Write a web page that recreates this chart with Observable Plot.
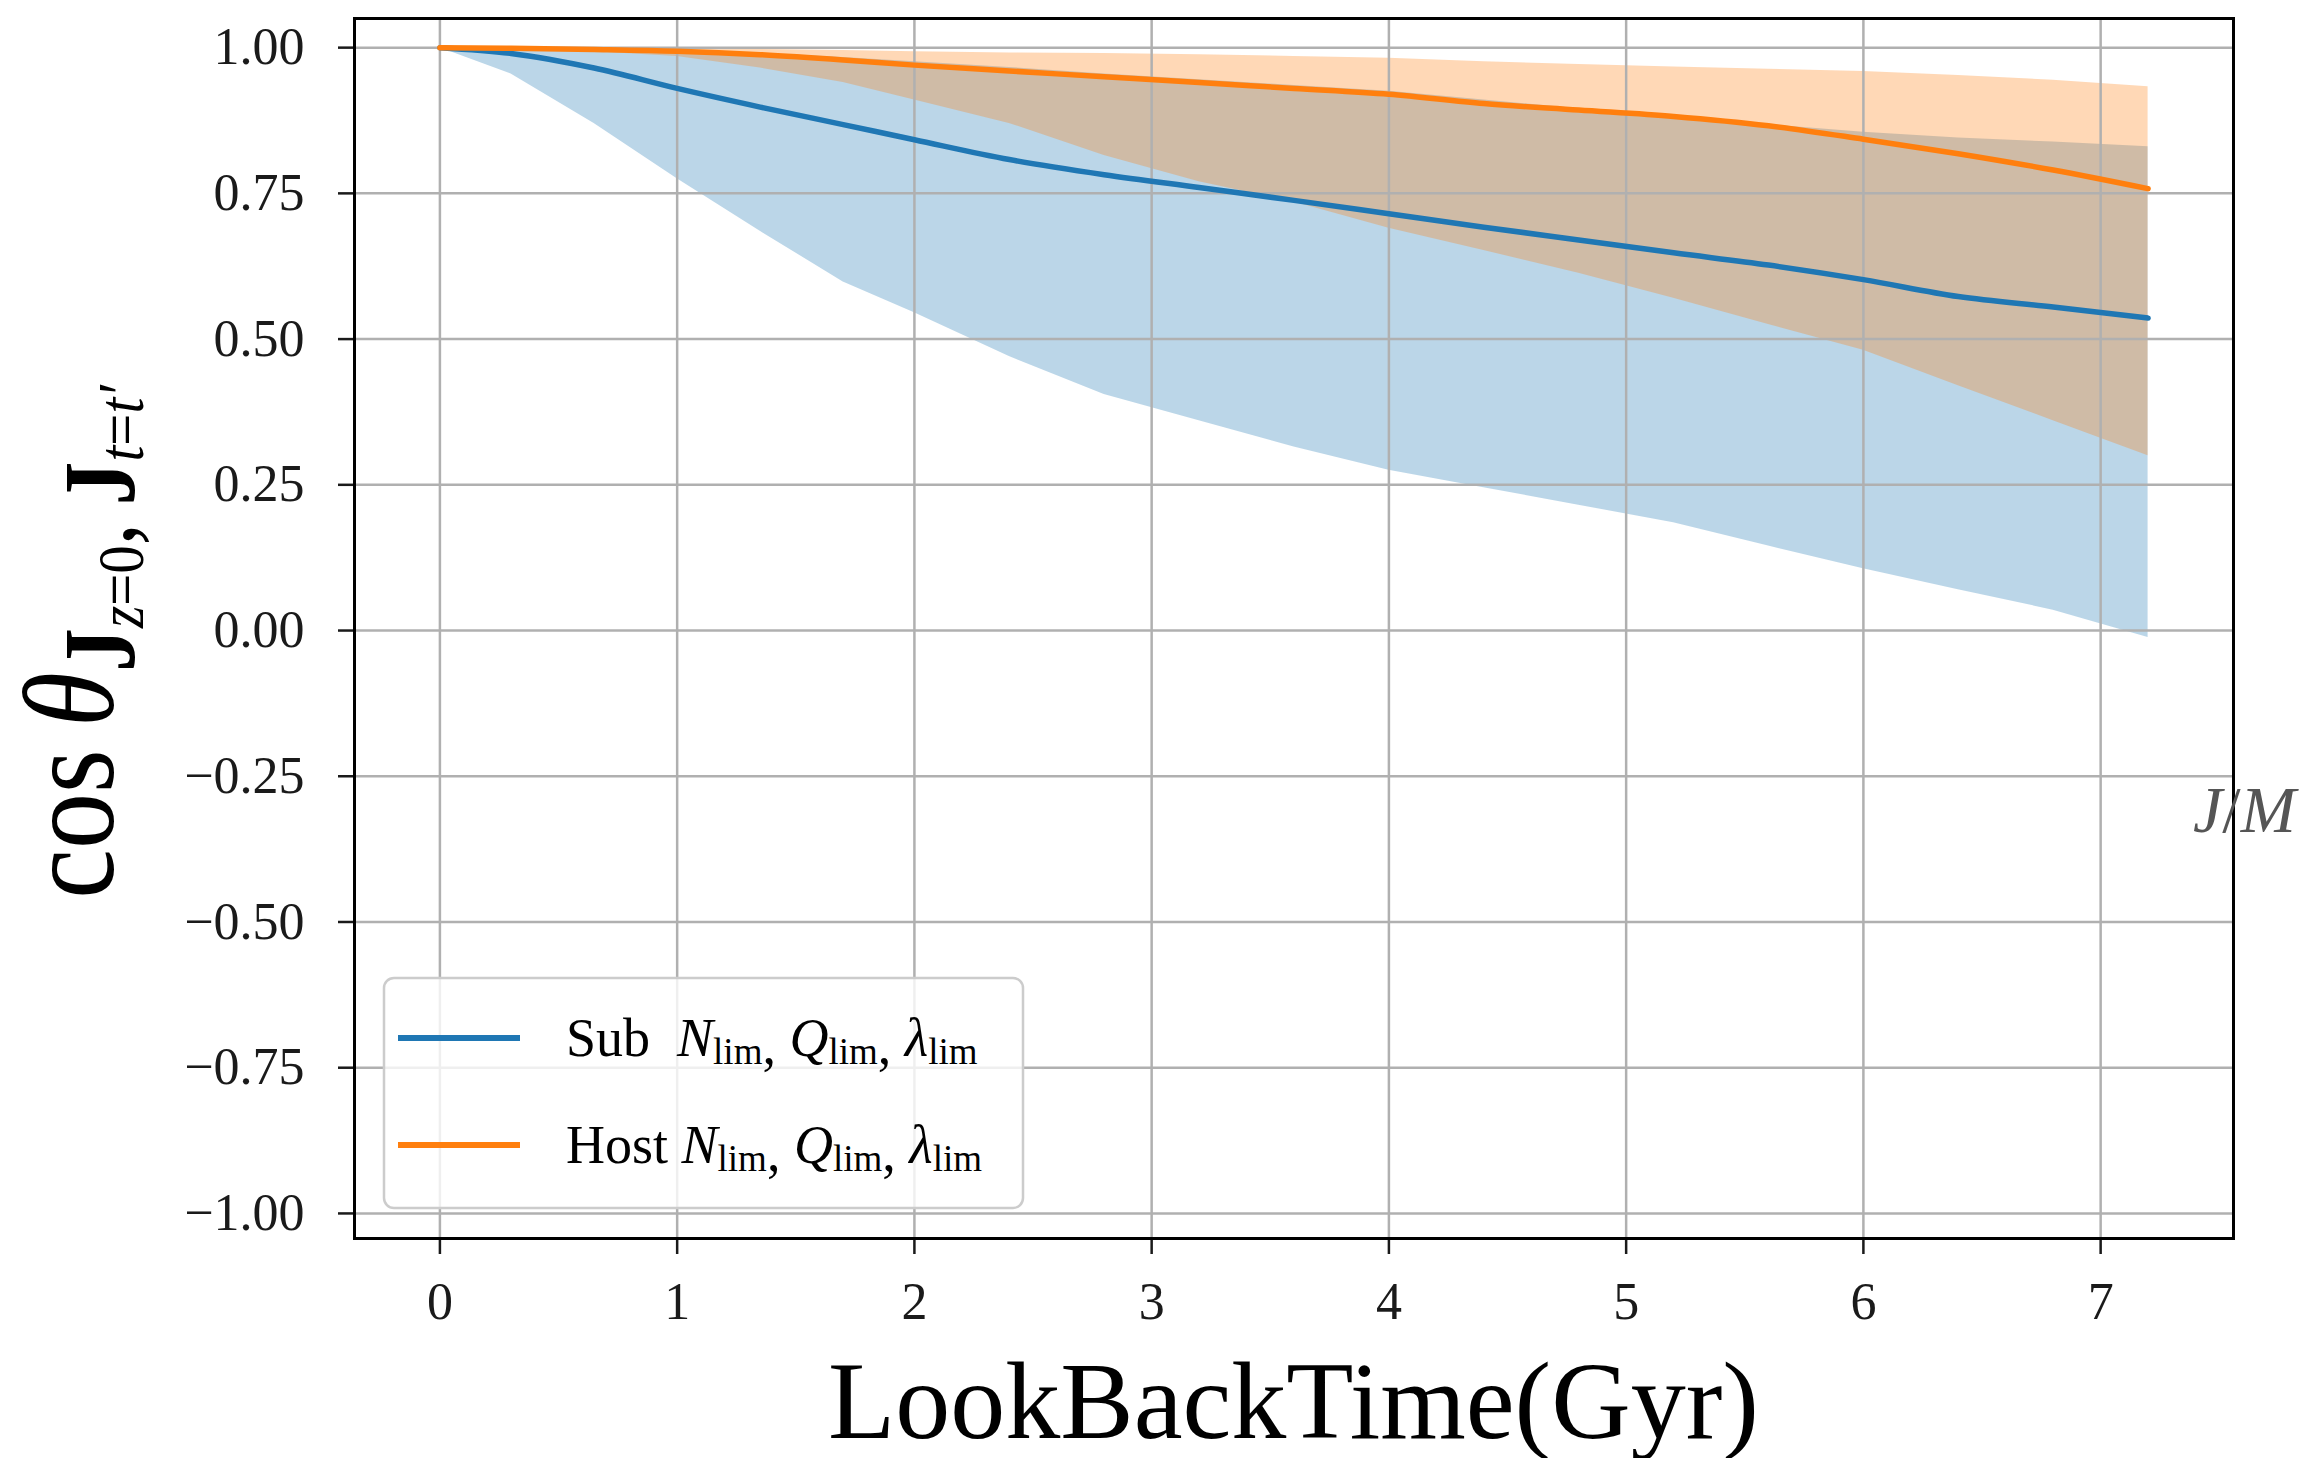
<!DOCTYPE html>
<html>
<head>
<meta charset="utf-8">
<script src="https://cdn.jsdelivr.net/npm/d3@7"></script>
<script src="https://cdn.jsdelivr.net/npm/@observablehq/plot@0.6"></script>
<style>
html, body { margin: 0; padding: 0; background: #ffffff; overflow: hidden; }
#chart svg { display: block; }
</style>
</head>
<body>
<div id="chart"></div>
<script>
// ---- data ----
const lookbackTime = [0, 0.3, 0.65, 1, 1.35, 1.7, 2, 2.4, 2.8, 3.2, 3.6, 4, 4.4, 4.8, 5.2, 5.6, 6, 6.4, 6.8, 7.2];

const subMean = [1.0, 0.99, 0.965, 0.93, 0.898, 0.868, 0.842, 0.808, 0.782, 0.76, 0.738, 0.715, 0.692, 0.67, 0.648, 0.627, 0.602, 0.573, 0.555, 0.536];
const subLow  = [1.0, 0.955, 0.87, 0.775, 0.685, 0.598, 0.545, 0.47, 0.405, 0.36, 0.315, 0.275, 0.245, 0.215, 0.185, 0.145, 0.106, 0.07, 0.035, -0.012];
const subHigh = [1.0, 1.0, 0.998, 0.995, 0.99, 0.983, 0.976, 0.966, 0.955, 0.945, 0.935, 0.925, 0.91, 0.895, 0.882, 0.868, 0.855, 0.845, 0.838, 0.83];

const hostMean = [1.0, 0.999, 0.997, 0.994, 0.988, 0.979, 0.97, 0.96, 0.95, 0.94, 0.93, 0.92, 0.904, 0.893, 0.882, 0.866, 0.843, 0.818, 0.79, 0.758];
const hostLow  = [1.0, 0.998, 0.993, 0.985, 0.965, 0.94, 0.91, 0.87, 0.815, 0.77, 0.735, 0.69, 0.652, 0.613, 0.57, 0.525, 0.481, 0.42, 0.36, 0.30];
const hostHigh = [1.0, 1.0, 1.0, 0.999, 0.997, 0.995, 0.993, 0.991, 0.99, 0.988, 0.985, 0.982, 0.976, 0.971, 0.967, 0.963, 0.959, 0.952, 0.944, 0.933];

const xTicks = [0, 1, 2, 3, 4, 5, 6, 7];
const yTicks = [-1, -0.75, -0.5, -0.25, 0, 0.25, 0.5, 0.75, 1];
const seriesNames = ["Sub", "Host"];
const xLabel = "LookBackTime(Gyr)";
const cornerNote = ["J", "/", "M"];

// ---- styling ----
const BLUE = "#1f77b4";
const ORANGE = "#ff7f0e";
const SERIF = "'Liberation Serif', 'Times New Roman', 'DejaVu Serif', serif";
const GRID = "#b0b0b0";

const rows = lookbackTime.map((t, i) => ({
  t,
  subMean: subMean[i], subLow: subLow[i], subHigh: subHigh[i],
  hostMean: hostMean[i], hostLow: hostLow[i], hostHigh: hostHigh[i]
}));

const W = 2305, H = 1458;
const mL = 354, mR = 72, mT = 18, mB = 220;

const chart = Plot.plot({
  width: W,
  height: H,
  marginLeft: mL,
  marginRight: mR,
  marginTop: mT,
  marginBottom: mB,
  style: { fontFamily: SERIF, fontSize: "52px", color: "#1a1a1a", background: "#ffffff", overflow: "visible" },
  x: { domain: [-0.36, 7.56], ticks: xTicks },
  y: { domain: [-1.043, 1.05], ticks: yTicks },
  marks: [
    Plot.areaY(rows, { x: "t", y1: "subLow", y2: "subHigh", fill: BLUE, fillOpacity: 0.3, curve: "linear" }),
    Plot.areaY(rows, { x: "t", y1: "hostLow", y2: "hostHigh", fill: ORANGE, fillOpacity: 0.3, curve: "linear" }),
    Plot.gridX(xTicks, { stroke: GRID, strokeOpacity: 1, strokeWidth: 2.5 }),
    Plot.gridY(yTicks, { stroke: GRID, strokeOpacity: 1, strokeWidth: 2.5 }),
    Plot.lineY(rows, { x: "t", y: "subMean", stroke: BLUE, strokeWidth: 5.5, curve: "monotone-x" }),
    Plot.lineY(rows, { x: "t", y: "hostMean", stroke: ORANGE, strokeWidth: 5.5, curve: "monotone-x" }),
    Plot.axisX(xTicks, { tickSize: 16, tickPadding: 28, strokeWidth: 2.5, label: null, fontSize: 52, tickFormat: d3.format("d") }),
    Plot.axisY(yTicks, { tickSize: 16, tickPadding: 34, strokeWidth: 2.5, label: null, fontSize: 52, tickFormat: d3.format(".2f") }),
    Plot.frame({ stroke: "#000000", strokeWidth: 3 })
  ]
});

document.getElementById("chart").appendChild(chart);

const svg = d3.select(chart);

// ---- x-axis label ----
svg.append("text")
  .attr("x", mL + (W - mL - mR) / 2)
  .attr("y", 1438)
  .attr("text-anchor", "middle")
  .attr("font-family", SERIF)
  .attr("font-size", 110)
  .attr("fill", "#000")
  .text(xLabel);

// ---- y-axis label (mathtext-like) ----
const yl = svg.append("text")
  .attr("transform", `translate(113, ${mT + (H - mT - mB) / 2 + 14}) scale(1.15, 1) rotate(-90)`)
  .attr("text-anchor", "middle")
  .attr("font-family", SERIF)
  .attr("font-size", 112)
  .attr("fill", "#000");
yl.append("tspan").text("cos\u2009");
yl.append("tspan").attr("font-style", "italic").text("θ");
yl.append("tspan").attr("font-weight", "bold").attr("font-size", 88).attr("dy", 18).text("J");
yl.append("tspan").attr("font-style", "italic").attr("font-size", 57).attr("dy", 8).text("z");
yl.append("tspan").attr("font-size", 57).text("=0");
yl.append("tspan").attr("font-size", 88).attr("dy", -8).text(",\u2009");
yl.append("tspan").attr("font-weight", "bold").attr("font-size", 88).text("J");
yl.append("tspan").attr("font-style", "italic").attr("font-size", 57).attr("dy", 8).text("t");
yl.append("tspan").attr("font-size", 57).text("=");
yl.append("tspan").attr("font-style", "italic").attr("font-size", 57).text("t\u2032");

// ---- corner note ----
const note = svg.append("text")
  .attr("x", 2193)
  .attr("y", 832)
  .attr("text-anchor", "start")
  .attr("font-family", SERIF)
  .attr("font-size", 66)
  .attr("font-style", "italic")
  .attr("fill", "#555555");
note.append("tspan").text(cornerNote[0]);
note.append("tspan").attr("font-style", "normal").text(cornerNote[1]);
note.append("tspan").text(cornerNote[2]);

// ---- legend ----
const lg = svg.append("g");
lg.append("rect")
  .attr("x", 384).attr("y", 978)
  .attr("width", 639).attr("height", 230)
  .attr("rx", 10).attr("ry", 10)
  .attr("fill", "#ffffff").attr("fill-opacity", 0.8)
  .attr("stroke", "#cccccc").attr("stroke-width", 2.5);

const legendColors = [BLUE, ORANGE];
const legendRowY = [1038, 1145];
seriesNames.forEach((name, i) => {
  const cy = legendRowY[i];
  lg.append("line")
    .attr("x1", 398).attr("x2", 520)
    .attr("y1", cy).attr("y2", cy)
    .attr("stroke", legendColors[i]).attr("stroke-width", 6);
  const t = lg.append("text")
    .attr("x", 566).attr("y", cy + 18)
    .attr("text-anchor", "start")
    .attr("font-family", SERIF)
    .attr("font-size", 54)
    .attr("fill", "#000");
  t.append("tspan").text(name + (i === 0 ? "\u00a0\u00a0" : "\u00a0"));
  const sym = ["N", "Q", "λ"];
  sym.forEach((s, j) => {
    t.append("tspan").attr("font-style", "italic").attr("dy", j === 0 ? 0 : -8).text(s);
    t.append("tspan").attr("font-size", 37).attr("dy", 8).text("lim");
    if (j < sym.length - 1) t.append("tspan").text(", ");
  });
});
</script>
</body>
</html>
